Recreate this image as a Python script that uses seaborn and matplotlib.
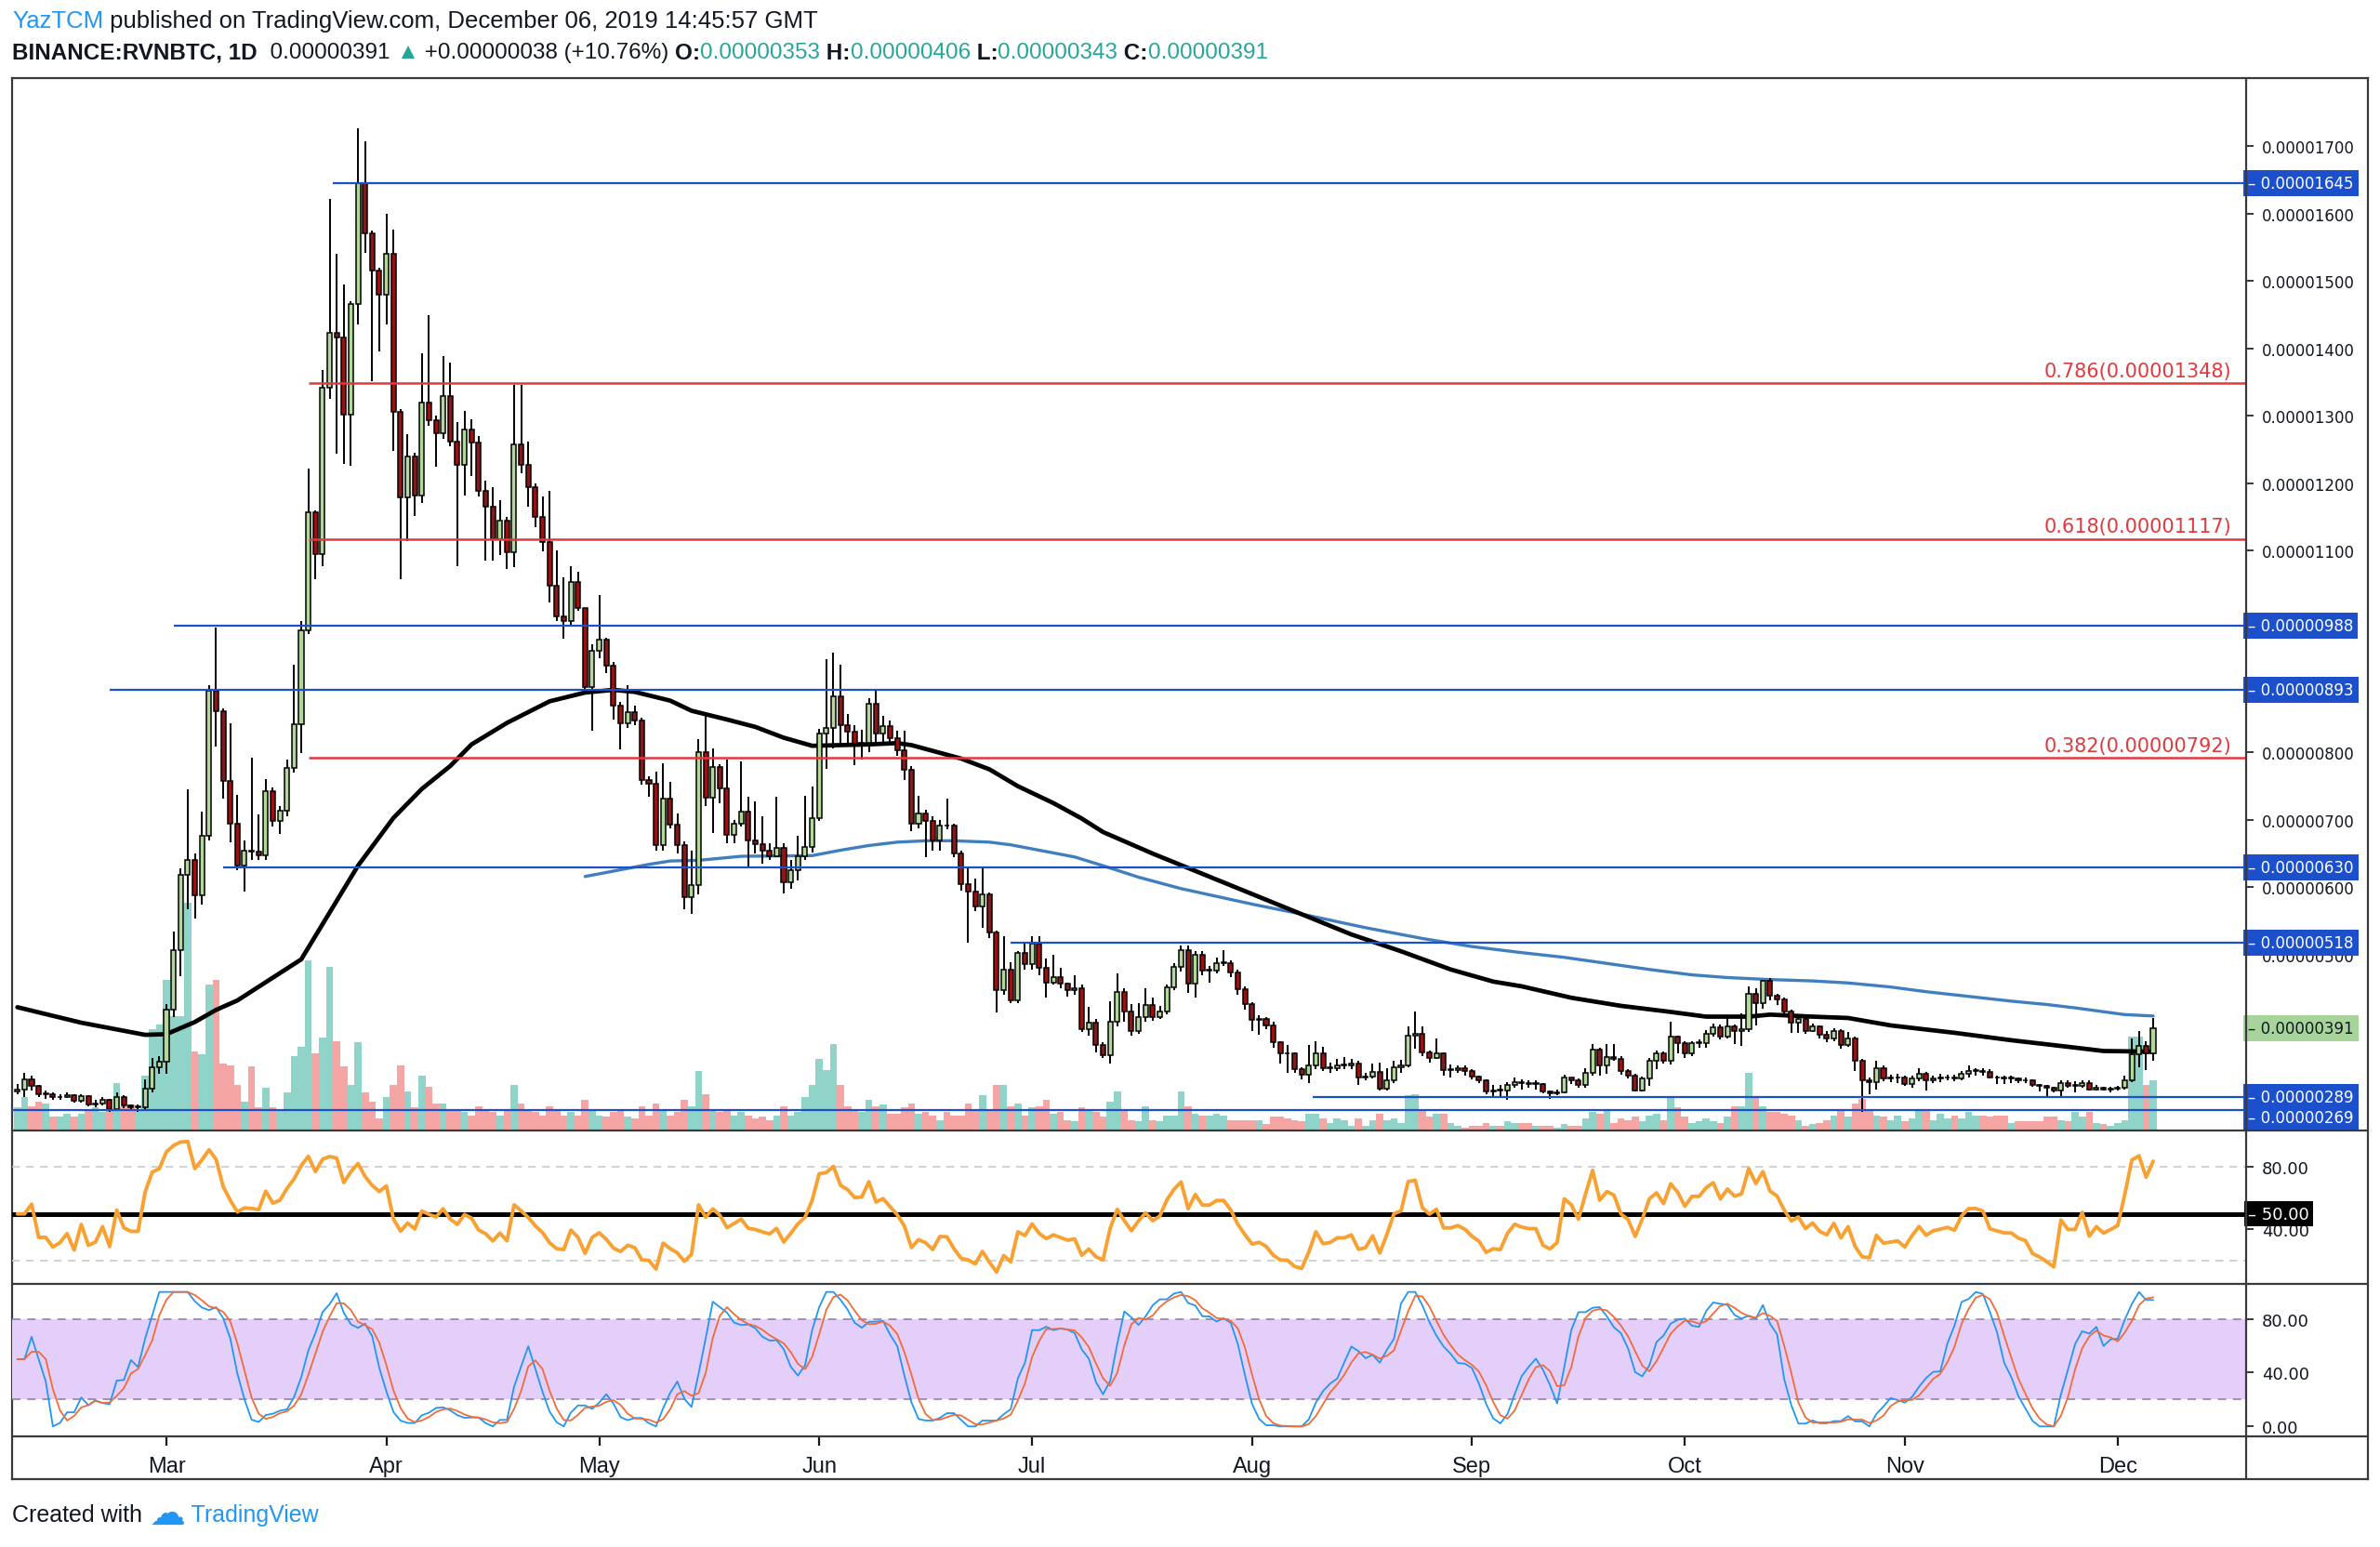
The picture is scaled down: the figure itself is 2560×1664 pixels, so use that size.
import matplotlib
matplotlib.use("Agg")
import numpy as np
import pandas as pd
import seaborn as sns
import matplotlib.pyplot as plt
from matplotlib.lines import Line2D

sns.set_theme(style="white")
plt.rcParams['font.family'] = ['DejaVu Sans']
narrow = ['Liberation Sans', 'DejaVu Sans']

# daily candles, prices in satoshi (1e-8 BTC), first day 2019-02-08
first_open = 297
close = [300, 315, 305, 293, 293, 288, 289, 291, 283, 290,
         278, 279, 284, 271, 289, 276, 273, 273, 301, 333,
         341, 419, 507, 619, 640, 588, 676, 892, 861, 758,
         694, 632, 655, 653, 648, 742, 699, 713, 777, 842,
         981, 1156, 1095, 1341, 1423, 1416, 1301, 1466, 1645, 1570,
         1516, 1480, 1540, 1306, 1178, 1239, 1181, 1320, 1293, 1274,
         1329, 1262, 1227, 1280, 1260, 1189, 1165, 1117, 1144, 1097,
         1257, 1227, 1194, 1150, 1113, 1047, 1002, 995, 1053, 1015,
         897, 951, 967, 929, 870, 844, 860, 847, 759, 754,
         663, 731, 693, 662, 585, 603, 800, 733, 779, 747,
         678, 695, 712, 670, 664, 654, 646, 658, 608, 626,
         646, 660, 703, 828, 837, 883, 841, 831, 813, 815,
         872, 828, 839, 821, 803, 775, 694, 710, 698, 669,
         692, 691, 650, 604, 594, 572, 589, 533, 447, 478,
         432, 503, 486, 517, 480, 458, 466, 457, 448, 450,
         390, 399, 366, 351, 401, 445, 416, 386, 407, 425,
         407, 416, 452, 482, 507, 457, 500, 477, 477, 488,
         488, 474, 449, 427, 403, 405, 395, 370, 354, 353,
         330, 322, 335, 354, 331, 332, 336, 336, 338, 318,
         319, 326, 301, 314, 333, 336, 380, 383, 355, 347,
         353, 329, 329, 331, 327, 319, 313, 297, 299, 298,
         306, 311, 309, 308, 308, 297, 294, 296, 317, 314,
         306, 324, 359, 335, 348, 345, 327, 321, 299, 316,
         343, 353, 342, 378, 369, 353, 369, 369, 383, 392,
         378, 393, 387, 390, 442, 428, 461, 439, 433, 415,
         399, 404, 387, 393, 381, 376, 386, 366, 376, 342,
         313, 311, 332, 316, 317, 318, 308, 316, 323, 313,
         316, 317, 318, 316, 323, 327, 327, 326, 318, 317,
         316, 316, 314, 313, 307, 305, 302, 298, 309, 305,
         305, 310, 300, 303, 300, 301, 302, 313, 352, 364,
         353, 391]
high = [308, 325, 320, 307, 299, 295, 293, 295, 293, 293,
        292, 285, 288, 286, 296, 291, 278, 277, 315, 346,
        350, 427, 534, 628, 745, 650, 712, 900, 985, 865,
        843, 737, 670, 792, 708, 761, 748, 720, 789, 930,
        995, 1222, 1160, 1368, 1621, 1540, 1494, 1470, 1726, 1707,
        1575, 1520, 1599, 1576, 1310, 1272, 1245, 1392, 1449, 1300,
        1389, 1379, 1290, 1307, 1295, 1270, 1204, 1194, 1175, 1150,
        1345, 1345, 1262, 1200, 1180, 1188, 1100, 1060, 1076, 1068,
        1015, 960, 1034, 970, 935, 875, 900, 870, 852, 765,
        772, 784, 756, 710, 668, 655, 820, 855, 806, 782,
        790, 700, 787, 735, 727, 705, 665, 735, 665, 640,
        677, 736, 750, 835, 938, 948, 930, 857, 840, 834,
        880, 892, 855, 848, 833, 833, 780, 736, 715, 705,
        700, 731, 695, 655, 631, 613, 631, 592, 535, 527,
        489, 506, 518, 527, 527, 494, 500, 481, 459, 469,
        455, 422, 405, 370, 431, 472, 450, 427, 428, 450,
        437, 424, 455, 487, 513, 513, 505, 505, 483, 495,
        507, 492, 478, 453, 430, 410, 408, 400, 372, 366,
        355, 333, 366, 372, 363, 340, 345, 348, 345, 342,
        325, 338, 340, 332, 343, 344, 394, 415, 394, 358,
        376, 355, 337, 336, 335, 330, 321, 315, 306, 306,
        311, 317, 315, 313, 313, 310, 299, 300, 322, 318,
        316, 332, 367, 362, 368, 367, 349, 330, 323, 319,
        346, 357, 356, 400, 380, 372, 372, 374, 388, 398,
        396, 408, 396, 413, 453, 450, 463, 465, 442, 437,
        418, 409, 409, 398, 395, 386, 391, 390, 385, 378,
        345, 318, 342, 335, 322, 323, 320, 320, 332, 326,
        320, 323, 322, 322, 328, 336, 331, 331, 330, 321,
        320, 320, 318, 317, 315, 308, 306, 304, 314, 313,
        312, 314, 313, 306, 304, 304, 305, 320, 375, 386,
        372, 406]
low = [293, 288, 299, 288, 286, 285, 285, 287, 280, 280,
       275, 274, 276, 267, 268, 272, 270, 267, 271, 295,
       323, 323, 407, 468, 568, 554, 574, 670, 809, 732,
       667, 625, 593, 640, 640, 640, 690, 679, 705, 770,
       799, 976, 1057, 1076, 1325, 1243, 1229, 1226, 1435, 1542,
       1351, 1396, 1435, 1248, 1057, 1114, 1151, 1170, 1285, 1224,
       1265, 1255, 1077, 1181, 1210, 1180, 1085, 1085, 1093, 1072,
       1075, 1214, 1165, 1135, 1098, 1023, 995, 969, 990, 1010,
       893, 832, 940, 918, 849, 805, 836, 840, 752, 735,
       655, 655, 687, 650, 568, 561, 590, 720, 680, 725,
       665, 665, 690, 631, 650, 635, 640, 645, 591, 598,
       610, 640, 652, 698, 776, 806, 810, 812, 781, 790,
       801, 815, 810, 815, 795, 759, 683, 688, 645, 655,
       655, 686, 645, 595, 518, 565, 540, 525, 414, 440,
       428, 428, 478, 478, 470, 437, 455, 450, 438, 440,
       385, 380, 355, 346, 338, 393, 400, 380, 383, 400,
       402, 404, 412, 447, 475, 443, 437, 470, 458, 472,
       483, 467, 440, 418, 387, 381, 390, 362, 339, 325,
       325, 315, 309, 330, 328, 325, 328, 330, 330, 306,
       313, 316, 299, 298, 310, 325, 333, 360, 350, 340,
       345, 320, 318, 325, 320, 315, 310, 293, 289, 290,
       285, 302, 300, 302, 300, 294, 286, 292, 294, 308,
       302, 303, 320, 320, 323, 342, 322, 316, 297, 297,
       305, 330, 338, 337, 354, 346, 350, 362, 362, 378,
       374, 376, 368, 364, 385, 395, 420, 432, 425, 410,
       384, 384, 383, 385, 375, 370, 372, 360, 363, 327,
       267, 293, 300, 312, 311, 310, 305, 303, 312, 299,
       309, 311, 313, 312, 313, 317, 321, 320, 316, 308,
       308, 309, 309, 309, 304, 297, 289, 296, 289, 302,
       295, 303, 298, 298, 298, 295, 299, 300, 311, 333,
       329, 343]
volume = [15, 22, 16, 19, 18, 9, 9, 11, 9, 11,
          13, 15, 12, 13, 31, 16, 17, 13, 36, 67,
          70, 99, 75, 75, 150, 52, 50, 96, 99, 44,
          43, 30, 19, 42, 15, 28, 15, 13, 25, 49,
          55, 112, 51, 61, 108, 59, 42, 30, 58, 25,
          19, 8, 22, 30, 43, 26, 15, 36, 29, 18,
          18, 13, 14, 12, 10, 16, 14, 12, 10, 14,
          30, 18, 14, 12, 10, 16, 14, 10, 12, 10,
          20, 14, 10, 9, 12, 14, 9, 8, 16, 10,
          18, 14, 10, 12, 20, 16, 39, 24, 14, 12,
          14, 10, 12, 10, 8, 9, 7, 10, 16, 10,
          12, 22, 30, 47, 40, 57, 30, 16, 14, 12,
          20, 16, 17, 11, 11, 15, 18, 11, 12, 10,
          7, 12, 10, 10, 18, 14, 23, 14, 30, 30,
          16, 18, 10, 15, 16, 20, 11, 12, 7, 6,
          15, 14, 12, 9, 19, 26, 13, 7, 6, 16,
          7, 6, 10, 10, 26, 16, 11, 10, 10, 11,
          10, 7, 7, 7, 7, 7, 4, 9, 9, 8,
          7, 6, 11, 11, 8, 5, 8, 7, 3, 8,
          3, 7, 11, 7, 8, 5, 23, 24, 14, 9,
          11, 11, 5, 3, 2, 3, 3, 5, 3, 3,
          6, 5, 5, 5, 3, 3, 3, 2, 4, 3,
          3, 8, 12, 11, 14, 5, 8, 7, 9, 6,
          10, 11, 7, 22, 15, 9, 5, 6, 8, 6,
          5, 9, 16, 16, 38, 22, 16, 12, 12, 11,
          10, 7, 3, 4, 5, 7, 10, 13, 9, 18,
          21, 13, 10, 9, 7, 10, 6, 8, 13, 13,
          7, 11, 8, 10, 8, 12, 10, 10, 9, 10,
          10, 5, 6, 6, 6, 6, 9, 9, 7, 6,
          12, 9, 12, 5, 4, 3, 5, 7, 62, 62,
          30, 33]

# moving averages (day index, satoshi)
ma50_day = [0, 9, 18, 21, 25, 28, 31, 40, 48, 53, 57, 61, 64, 69, 75, 80, 84, 87, 92,
            95, 100, 104, 108, 112, 116, 120, 124, 126, 133, 137, 141, 146, 150, 153,
            160, 167, 174, 181, 188, 195, 202, 208, 212, 219, 226, 233, 238, 244, 247,
            253, 258, 264, 273, 281, 290, 294, 301]
ma50_sat = [422, 399, 381, 382, 400, 418, 432, 493, 632, 703, 746, 780, 812, 844, 876,
            889, 893, 890, 877, 862, 849, 838, 822, 810, 811, 812, 814, 811, 791, 775,
            750, 725, 702, 682, 650, 620, 590, 560, 530, 505, 478, 460, 453, 436, 424,
            415, 408, 408, 411, 408, 406, 395, 384, 373, 362, 357, 356]
ma200_day = [80, 84, 89, 92, 96, 102, 112, 116, 120, 124, 128, 132, 137, 140, 144, 149,
             153, 158, 164, 174, 182, 190, 198, 205, 212, 218, 224, 230, 236, 241, 247,
             253, 258, 264, 269, 275, 281, 286, 290, 297, 301]
ma200_sat = [616, 624, 634, 639, 640, 646, 647, 655, 662, 667, 669, 669, 667, 663, 655,
             645, 632, 615, 598, 575, 558, 540, 524, 512, 503, 496, 487, 478, 470, 466,
             463, 461, 458, 452, 445, 438, 431, 426, 421, 411, 409]

level_sat = [1645, 988, 893, 630, 518, 289, 269]
level_from = [44.5, 22, 13, 29, 140, 182.5, -1]
fib_ratio = ['0.786', '0.618', '0.382']
fib_sat = [1348, 1117, 792]
fib_from = 41
last_sat = 391
price_ticks = [500, 600, 700, 800, 1100, 1200, 1300, 1400, 1500, 1600, 1700]

n = len(close)
assert len(high) == n and len(low) == n and len(volume) == n
day = np.arange(n)
c = np.array(close, float)
o = np.concatenate([[first_open], c[:-1]])
h = np.maximum(np.array(high, float), np.maximum(o, c))
l = np.minimum(np.array(low, float), np.minimum(o, c))
up = c >= o
dates = pd.date_range('2019-02-08', periods=n, freq='D')


def wilder_rsi(series, length):
    diff = series.diff().fillna(0)
    gain = diff.clip(lower=0).ewm(alpha=1 / length, adjust=True).mean()
    loss = (-diff.clip(upper=0)).ewm(alpha=1 / length, adjust=True).mean()
    return (100 - 100 / (1 + gain / loss.replace(0, np.nan))).fillna(50)


closes = pd.Series(c)
rsi = wilder_rsi(closes, 7)
rsi14 = wilder_rsi(closes, 14)
rmin = rsi14.rolling(14, min_periods=1).min()
rmax = rsi14.rolling(14, min_periods=1).max()
stoch = ((rsi14 - rmin) / (rmax - rmin).replace(0, np.nan) * 100).fillna(50)
k = stoch.rolling(3, min_periods=1).mean()
d = k.rolling(3, min_periods=1).mean()

# colours
GREEN, RED = '#b2d79a', '#961313'
VTEAL, VRED = '#8fd3c9', '#f5a6a4'
BLUE, FIBRED = '#1b4fcb', '#e0393e'
TEAL = '#26a69a'
INK = '#131722'
BORDER = '#3a3a3a'

W, H = 2560, 1665


def rect(x0, y0, x1, y1):
    return [x0 / W, 1 - y1 / H, (x1 - x0) / W, (y1 - y0) / H]


fig = plt.figure(figsize=(W / 100, H / 100), dpi=100)
fig.patch.set_facecolor('white')
xlim = (-0.75, 314.1)

# outer frame
fr = fig.add_axes(rect(13, 85, 2547, 1592), label='frame')
fr.set_xticks([])
fr.set_yticks([])
fr.set_facecolor('white')
for s in fr.spines.values():
    s.set_color(BORDER)
    s.set_linewidth(1.6)
fig.add_artist(Line2D([2416 / W, 2416 / W], [1 - 1592 / H, 1 - 85 / H], color=BORDER, lw=1.6))
for yy in (1217, 1382, 1546):
    fig.add_artist(Line2D([13 / W, 2547 / W], [1 - yy / H, 1 - yy / H], color=BORDER, lw=1.6))

# volume underneath
main_rect = rect(13, 85, 2416, 1217)
axv = fig.add_axes(main_rect, label='volume')
axv.bar(day, volume, width=1.0, color=np.where(up, VTEAL, VRED), linewidth=0)
axv.set_xlim(xlim)
axv.set_ylim(0, 693)
axv.axis('off')

# price panel
ax = fig.add_axes(main_rect, label='price')
ax.patch.set_alpha(0)
ax.set_xlim(xlim)
ax.set_ylim(239, 1801)
for s in ax.spines.values():
    s.set_visible(False)

for p, x0 in zip(level_sat, level_from):
    ax.hlines(p, x0, xlim[1], color=BLUE, lw=1.6, zorder=4)
for p in fib_sat:
    ax.hlines(p, fib_from, xlim[1], color=FIBRED, lw=1.8, zorder=4)
for r, p in zip(fib_ratio, fib_sat):
    ax.annotate(f'{r}({p * 1e-8:.8f})', xy=(1, p), xycoords=ax.get_yaxis_transform(),
                xytext=(-11, 2.5), textcoords='offset points', ha='right', va='bottom',
                color=FIBRED, fontsize=15)

sns.lineplot(x=ma200_day, y=ma200_sat, ax=ax, color='#3f7fbf', linewidth=2.4, zorder=2)
sns.lineplot(x=ma50_day, y=ma50_sat, ax=ax, color='black', linewidth=3.4, zorder=2)

ax.vlines(day, l, h, color='black', lw=1.4, zorder=3)
body_lo = np.minimum(o, c)
body_h = np.maximum(np.abs(c - o), 1.2)
ax.bar(day, body_h, bottom=body_lo, width=0.66, color=np.where(up, GREEN, RED),
       edgecolor='black', linewidth=1.1, zorder=3.5)

ax.set_xticks([])
ax.yaxis.tick_right()
ax.set_yticks(price_ticks)
ax.set_yticklabels([f'{t * 1e-8:.8f}' for t in price_ticks])
ax.tick_params(axis='y', length=6, width=1.2, pad=6, labelsize=12, colors=INK)
ax.set_ylabel('')

box_levels = level_sat[:-1]
for p in box_levels:
    ax.annotate(f'– {p * 1e-8:.8f}', xy=(1, p), xycoords=ax.get_yaxis_transform(),
                xytext=(1.5, 0), textcoords='offset points', ha='left', va='center',
                color='white', fontsize=12, zorder=10,
                bbox=dict(boxstyle='square,pad=0.3', fc=BLUE, ec='none'))
ax.annotate(f'– {level_sat[-1] * 1e-8:.8f}', xy=(1, level_sat[-1]), xycoords=ax.get_yaxis_transform(),
            xytext=(1.5, -5.5), textcoords='offset points', ha='left', va='center',
            color='white', fontsize=12, zorder=10,
            bbox=dict(boxstyle='square,pad=0.3', fc=BLUE, ec='none'))
ax.annotate(f'– {last_sat * 1e-8:.8f}', xy=(1, last_sat), xycoords=ax.get_yaxis_transform(),
            xytext=(1.5, 0), textcoords='offset points', ha='left', va='center',
            color=INK, fontsize=12, zorder=10,
            bbox=dict(boxstyle='square,pad=0.3', fc='#a6d49a', ec='none'))

# RSI panel
axr = fig.add_axes(rect(13, 1217, 2416, 1382), label='rsi')
axr.patch.set_alpha(0)
axr.set_xlim(xlim)
axr.set_ylim(5, 103.6)
for s in axr.spines.values():
    s.set_visible(False)
for lvl in (80, 20):
    axr.axhline(lvl, color='#c9c9c9', lw=1.2, ls=(0, (5, 4)))
axr.axhline(50, color='black', lw=3.6)
sns.lineplot(x=day, y=rsi.values, ax=axr, color='#f8a131', linewidth=2.8)
axr.set_xticks([])
axr.yaxis.tick_right()
axr.set_yticks([80, 40])
axr.set_yticklabels(['80.00', '40.00'])
axr.tick_params(axis='y', length=6, width=1.2, pad=6, labelsize=13, colors=INK)
axr.set_ylabel('')
axr.annotate('– 50.00', xy=(1, 50), xycoords=axr.get_yaxis_transform(),
             xytext=(1.5, 0), textcoords='offset points', ha='left', va='center',
             color='white', fontsize=13, zorder=10,
             bbox=dict(boxstyle='square,pad=0.25', fc='black', ec='none'))

# Stoch RSI panel
axs = fig.add_axes(rect(13, 1382, 2416, 1546), label='stoch')
axs.patch.set_alpha(0)
axs.set_xlim(xlim)
axs.set_ylim(-7.4, 106)
for s in axs.spines.values():
    s.set_visible(False)
axs.axhspan(20, 80, color='#e4cefa', lw=0)
for lvl in (80, 20):
    axs.axhline(lvl, color='#9a8aa8', lw=1.3, ls=(0, (5, 4)))
sns.lineplot(x=day, y=k.values, ax=axs, color='#2196f3', linewidth=1.3)
sns.lineplot(x=day, y=d.values, ax=axs, color='#f26b38', linewidth=1.3)
axs.yaxis.tick_right()
axs.set_yticks([80, 40, 0])
axs.set_yticklabels(['80.00', '40.00', '0.00'])
axs.tick_params(axis='y', length=6, width=1.2, pad=6, labelsize=13, colors=INK)
axs.set_ylabel('')
month_pos = [i for i, dt in enumerate(dates) if dt.day == 1]
axs.set_xticks(month_pos)
axs.set_xticklabels([dates[i].strftime('%b') for i in month_pos], family=narrow, fontsize=17)
axs.tick_params(axis='x', length=7, width=1.6, pad=8, colors=INK, bottom=True)
axs.set_xlabel('')


# header and footer, drawn as runs of text
def runs(x, y, parts, size):
    rend = fig.canvas.get_renderer()
    for s, col, wt, sz in parts:
        t = fig.text(x, y, s, color=col, fontsize=sz or size, fontweight=wt, family=narrow,
                     ha='left', va='center')
        x += t.get_window_extent(renderer=rend).width / W


runs(13 / W, 1 - 23 / H, [('YazTCM', '#2196f3', 'normal', None),
                          (' published on TradingView.com, December 06, 2019 14:45:57 GMT', INK, 'normal', None)], 18.5)
runs(13 / W, 1 - 57 / H, [('BINANCE:RVNBTC, 1D', INK, 'bold', None), ('  0.00000391 ', INK, 'normal', None),
                          ('▲', TEAL, 'normal', None), (' +0.00000038 (+10.76%) ', INK, 'normal', None),
                          ('O:', INK, 'bold', None), ('0.00000353', TEAL, 'normal', None),
                          (' H:', INK, 'bold', None), ('0.00000406', TEAL, 'normal', None),
                          (' L:', INK, 'bold', None), ('0.00000343', TEAL, 'normal', None),
                          (' C:', INK, 'bold', None), ('0.00000391', TEAL, 'normal', None)], 17.5)
runs(13 / W, 1 - 1630 / H, [('Created with ', INK, 'normal', None), ('☁', '#2196f3', 'normal', 28),
                            (' TradingView', '#2196f3', 'normal', None)], 18)

fig.savefig('out.png', dpi=100, facecolor='white')
